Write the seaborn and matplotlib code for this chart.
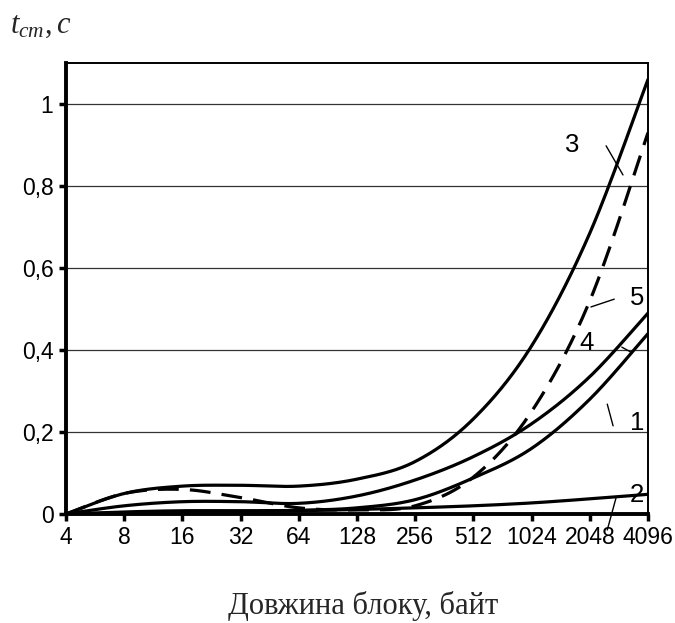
import numpy as np
import pandas as pd
import matplotlib
matplotlib.use("Agg")
import matplotlib.pyplot as plt
import seaborn as sns

# ---- data ----
block_sizes = ["4", "8", "16", "32", "64", "128", "256", "512", "1024", "2048", "4096"]
curve1 = [0, 0.005, 0.008, 0.008, 0.009, 0.015, 0.035, 0.088, 0.16, 0.28, 0.44]
curve2 = [0, 0.003, 0.005, 0.006, 0.008, 0.011, 0.015, 0.020, 0.027, 0.037, 0.048]
curve3 = [0, 0.050, 0.068, 0.070, 0.068, 0.085, 0.128, 0.232, 0.41, 0.685, 1.06]
curve4 = [0, 0.020, 0.030, 0.030, 0.026, 0.044, 0.083, 0.14, 0.22, 0.335, 0.49]
curve5 = [0, 0.050, 0.060, 0.040, 0.015, 0.010, 0.020, 0.09, 0.25, 0.52, 0.93]
y_ticks = [0, 0.2, 0.4, 0.6, 0.8, 1.0]
y_tick_labels = ["0", "0,2", "0,4", "0,6", "0,8", "1"]
x_label = "Довжина блоку, байт"


def smooth(ys, n=40):
    """Bezier smoothing through the points (like spreadsheet 'smoothed line')."""
    xs = np.arange(len(ys), dtype=float)
    pts = np.column_stack([xs, np.asarray(ys, float)])
    ext = np.vstack([pts[0], pts, pts[-1]])
    out = []
    for i in range(len(pts) - 1):
        p0, p1, p2, p3 = ext[i], ext[i + 1], ext[i + 2], ext[i + 3]
        c1 = p1 + (p2 - p0) / 6.0
        c2 = p2 - (p3 - p1) / 6.0
        t = np.linspace(0, 1, n, endpoint=(i == len(pts) - 2))[:, None]
        seg = ((1 - t) ** 3) * p1 + 3 * ((1 - t) ** 2) * t * c1 + 3 * (1 - t) * t ** 2 * c2 + t ** 3 * p2
        out.append(seg)
    arr = np.vstack(out)
    return arr[:, 0], arr[:, 1]


sns.set_theme(style="white")
plt.rcParams["font.family"] = ["Liberation Sans", "DejaVu Sans"]
plt.rcParams["mathtext.fontset"] = "custom"
plt.rcParams["mathtext.it"] = "Liberation Serif:italic"
plt.rcParams["mathtext.rm"] = "Liberation Serif"

fig = plt.figure(figsize=(6.75, 6.23), dpi=100)
ax = fig.add_axes([66 / 675, 1 - 514 / 623, (648 - 66) / 675, (514 - 63) / 623])

rows = []
for name, ys in [("1", curve1), ("2", curve2), ("3", curve3), ("4", curve4), ("5", curve5)]:
    sx, sy = smooth(ys)
    rows.append(pd.DataFrame({"x": sx, "y": sy, "curve": name}))
df = pd.concat(rows, ignore_index=True)

# gridlines
for yv in y_ticks[1:]:
    ax.axhline(yv, color="#333333", lw=0.9, zorder=1)

solid = df[df["curve"] != "5"]
sns.lineplot(data=solid, x="x", y="y", units="curve", estimator=None, sort=False,
             color="black", lw=2.3, ax=ax, legend=False, zorder=3)
dashed = df[df["curve"] == "5"]
sns.lineplot(data=dashed, x="x", y="y", estimator=None, sort=False,
             color="black", lw=2.3, ax=ax, legend=False, zorder=3)
ax.lines[-1].set_dashes([6.5, 3.5])

ax.set_xlim(0, 10)
ax.set_ylim(0, 1.1)
ax.set_xticks(range(len(block_sizes)))
ax.set_xticklabels(block_sizes)
ax.set_yticks(y_ticks)
ax.set_yticklabels(y_tick_labels)
ax.set_xlabel("")
ax.set_ylabel("")
ax.tick_params(axis="both", which="both", direction="out", length=5, width=2.5,
               color="black", labelsize=16.5, labelcolor="black", pad=4)
ax.tick_params(axis="both", bottom=True, left=True)
for side in ["left", "bottom"]:
    ax.spines[side].set_linewidth(2.8)
    ax.spines[side].set_color("black")
for side in ["top", "right"]:
    ax.spines[side].set_linewidth(1.4)
    ax.spines[side].set_color("black")
    ax.spines[side].set_visible(True)

# curve labels with leader lines
labels = [
    ("3", 8.69, 0.90, (9.28, 9.57), (0.898, 0.827)),
    ("5", 9.81, 0.527, (9.42, 9.02), (0.524, 0.505)),
    ("4", 8.95, 0.417, (9.55, 9.73), (0.407, 0.393)),
    ("1", 9.81, 0.222, (9.30, 9.40), (0.268, 0.215)),
    ("2", 9.81, 0.046, (9.45, 9.30), (0.039, -0.039)),
]
for txt, tx, ty, lx, ly in labels:
    ax.text(tx, ty, txt, fontsize=18.5, ha="center", va="center", color="black", zorder=5)
    ax.plot(lx, ly, color="black", lw=1.0, clip_on=False, zorder=5)

fig.text(10 / 675, 1 - 33 / 623, r"$t_{cm}, c$", fontsize=22, ha="left", va="baseline")
fig.text(363 / 675, 1 - 614 / 623, x_label, fontsize=22, ha="center", va="baseline",
         family=["Liberation Serif", "DejaVu Serif"])

fig.savefig("out.png", dpi=100, facecolor="white")
